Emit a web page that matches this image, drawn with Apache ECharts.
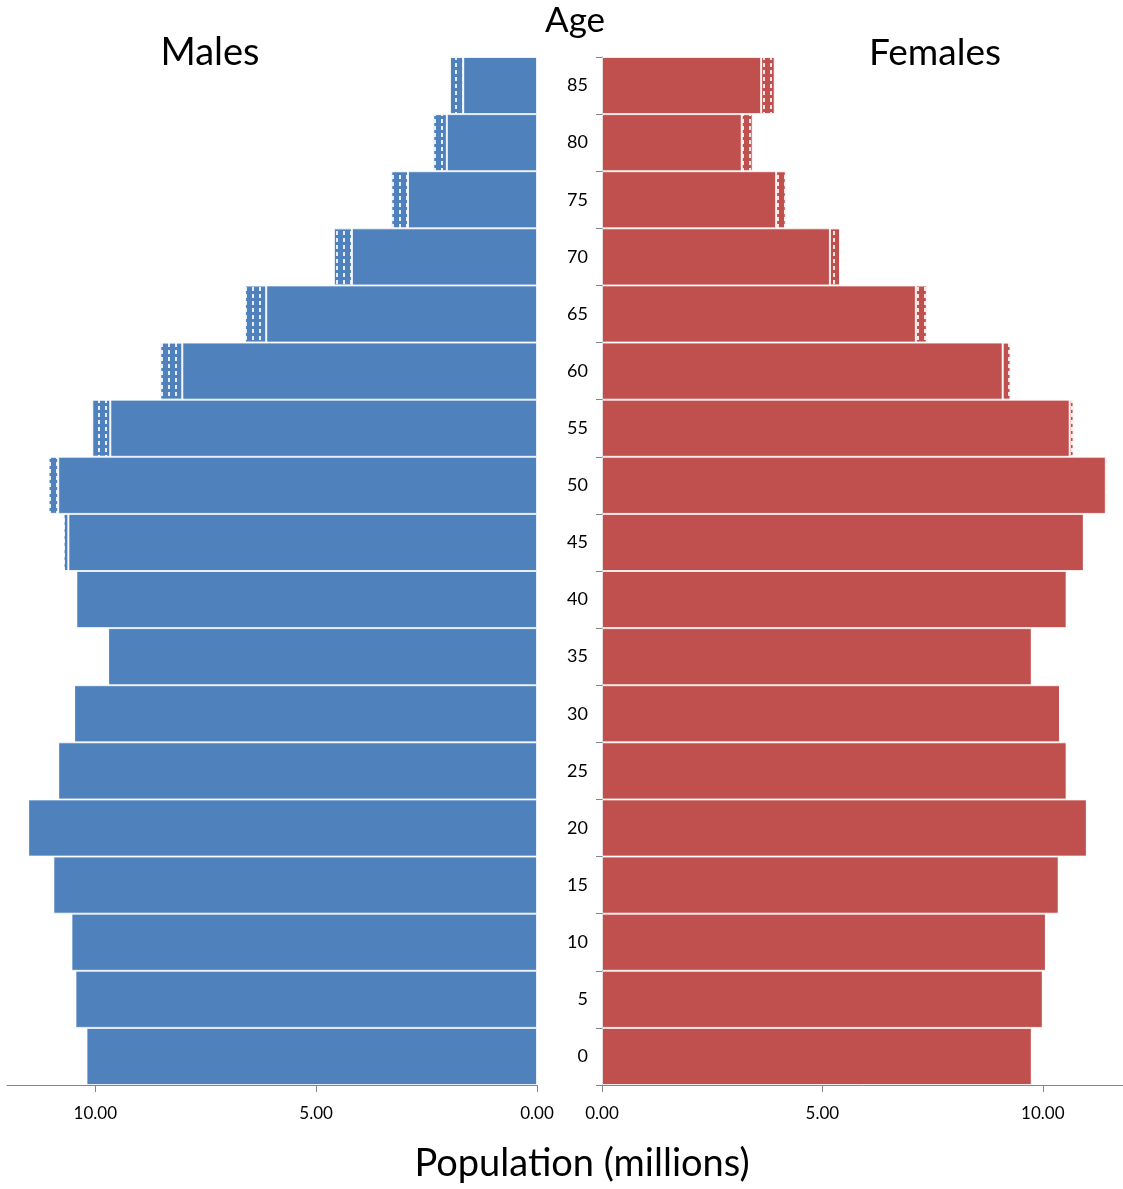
<!DOCTYPE html>
<html>
<head>
<meta charset="utf-8">
<script src="https://cdn.jsdelivr.net/npm/echarts@6/dist/echarts.min.js"></script>
<style>
  html, body { margin: 0; padding: 0; background: #fff; }
  #chart { width: 1123px; height: 1189px; }
</style>
</head>
<body>
<div id="chart"></div>
<script>
// age groups, bottom to top
var ages = ["0", "5", "10", "15", "20", "25", "30", "35", "40", "45", "50", "55", "60", "65", "70", "75", "80", "85"];
// millions
var malesBase = [10.20, 10.45, 10.54, 10.95, 11.52, 10.84, 10.48, 9.71, 10.43, 10.61, 10.84, 9.66, 8.03, 6.13, 4.19, 2.92, 2.04, 1.67];
var malesExtra = [0, 0, 0, 0, 0, 0, 0, 0, 0, 0.11, 0.22, 0.41, 0.50, 0.48, 0.41, 0.38, 0.31, 0.30];
var femalesBase = [9.75, 10.00, 10.07, 10.36, 11.00, 10.54, 10.39, 9.75, 10.54, 10.93, 11.43, 10.61, 9.09, 7.12, 5.17, 3.95, 3.17, 3.61];
var femalesExtra = [0, 0, 0, 0, 0, 0, 0, 0, 0, 0, 0.04, 0.09, 0.18, 0.25, 0.23, 0.22, 0.25, 0.31];
var xTicks = [0, 5, 10];

var font = "Lato, 'Open Sans', sans-serif";
var axisGray = "#868686";
var blue = "#4F81BD";
var red = "#C0504D";

var hatch = {
  symbol: "rect",
  symbolSize: 1,
  color: "rgba(255,255,255,0.85)",
  dashArrayX: [2, 5],
  dashArrayY: [4, 3]
};

function xAxisOf(idx, inverse, max) {
  return {
    type: "value",
    gridIndex: idx,
    inverse: inverse,
    min: 0,
    max: max,
    interval: 5,
    splitLine: { show: false },
    axisLine: { show: true, lineStyle: { color: axisGray, width: 1 } },
    axisTick: { show: true, length: 7, customValues: xTicks, lineStyle: { color: axisGray } },
    axisLabel: {
      customValues: xTicks,
      margin: 20,
      color: "#000",
      fontFamily: font,
      fontSize: 17,
      formatter: function (v) { return v.toFixed(2); }
    }
  };
}

var chart = echarts.init(document.getElementById("chart"));
chart.setOption({
  animation: false,
  grid: [
    { left: 7, right: 586, top: 57, bottom: 104 },
    { left: 602, right: 0, top: 57, bottom: 104 }
  ],
  xAxis: [xAxisOf(0, true, 12), xAxisOf(1, false, 11.82)],
  yAxis: [
    {
      type: "category",
      gridIndex: 0,
      data: ages,
      show: false
    },
    {
      type: "category",
      gridIndex: 1,
      data: ages,
      position: "left",
      axisLine: { show: true, lineStyle: { color: axisGray, width: 1 } },
      axisTick: { show: true, length: 6, lineStyle: { color: axisGray } },
      axisLabel: { margin: 14, color: "#000", fontFamily: font, fontSize: 18 }
    }
  ],
  series: [
    {
      name: "Males",
      type: "bar",
      xAxisIndex: 0,
      yAxisIndex: 0,
      stack: "m",
      barCategoryGap: "0%",
      data: malesBase,
      itemStyle: { color: blue, borderColor: "rgba(255,255,255,0.75)", borderWidth: 1 }
    },
    {
      name: "Males extra",
      type: "bar",
      xAxisIndex: 0,
      yAxisIndex: 0,
      stack: "m",
      barCategoryGap: "0%",
      data: malesExtra,
      itemStyle: { color: blue, borderColor: "rgba(255,255,255,0.6)", borderWidth: 1, decal: hatch }
    },
    {
      name: "Females",
      type: "bar",
      xAxisIndex: 1,
      yAxisIndex: 1,
      stack: "f",
      barCategoryGap: "0%",
      data: femalesBase,
      itemStyle: { color: red, borderColor: "rgba(255,255,255,0.75)", borderWidth: 1 }
    },
    {
      name: "Females extra",
      type: "bar",
      xAxisIndex: 1,
      yAxisIndex: 1,
      stack: "f",
      barCategoryGap: "0%",
      data: femalesExtra,
      itemStyle: { color: red, borderColor: "rgba(255,255,255,0.6)", borderWidth: 1, decal: hatch }
    }
  ],
  graphic: [
    { type: "text", x: 575, y: 21, style: { text: "Age", font: "35px " + font, fill: "#000", textAlign: "center", textVerticalAlign: "middle" } },
    { type: "text", x: 210, y: 53, style: { text: "Males", font: "38px " + font, fill: "#000", textAlign: "center", textVerticalAlign: "middle" } },
    { type: "text", x: 935, y: 53, style: { text: "Females", font: "37px " + font, fill: "#000", textAlign: "center", textVerticalAlign: "middle" } },
    { type: "text", x: 582, y: 1164, style: { text: "Population (millions)", font: "38px " + font, fill: "#000", textAlign: "center", textVerticalAlign: "middle" } }
  ]
});
</script>
</body>
</html>
